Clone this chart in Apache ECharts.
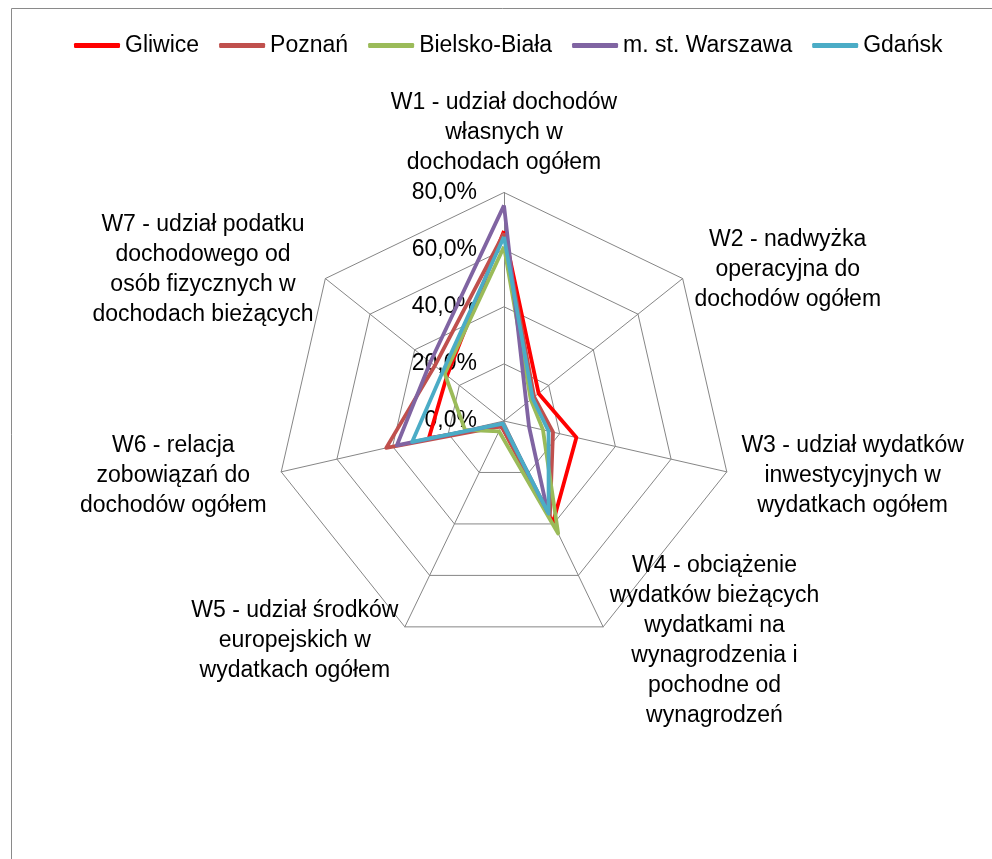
<!DOCTYPE html>
<html>
<head>
<meta charset="utf-8">
<script src="https://cdn.jsdelivr.net/npm/echarts@6/dist/echarts.min.js"></script>
<style>
html,body{margin:0;padding:0;background:#fff;}
#chart{width:992px;height:859px;}
</style>
</head>
<body>
<div id="chart"></div>
<script>
// Indicators (categories), listed W1..W7 (drawn clockwise from top)
var categories = [
  "W1 - udział dochodów\nwłasnych w\ndochodach ogółem",
  "W2 - nadwyżka\noperacyjna do\ndochodów ogółem",
  "W3 - udział wydatków\ninwestycyjnych w\nwydatkach ogółem",
  "W4 - obciążenie\nwydatków bieżących\nwydatkami na\nwynagrodzenia i\npochodne od\nwynagrodzeń",
  "W5 - udział środków\neuropejskich w\nwydatkach ogółem",
  "W6 - relacja\nzobowiązań do\ndochodów ogółem",
  "W7 - udział podatku\ndochodowego od\nosób fizycznych w\ndochodach bieżących"
];
var seriesNames = ["Gliwice", "Poznań", "Bielsko-Biała", "m. st. Warszawa", "Gdańsk"];
var gliwice   = [66.5, 15.5, 26.0, 39.5, 2.0, 27.0, 25.5];
var poznan    = [65.8, 13.5, 17.6, 37.0, 2.0, 42.3, 31.0];
var bielsko   = [61.0, 12.0, 14.0, 43.7, 4.0, 14.0, 26.5];
var warszawa  = [75.5, 10.0, 9.0, 35.2, 1.0, 38.5, 33.0];
var gdansk    = [64.5, 12.8, 16.0, 36.0, 1.0, 33.0, 27.5];
var tickValues = [0, 20, 40, 60, 80];
var axisMax = 80;
var colors = ["#FF0000", "#C0504D", "#9BBB59", "#8064A2", "#4BACC6"];

var seriesValues = [gliwice, poznan, bielsko, warszawa, gdansk];
var FONT = "Liberation Sans";

// ECharts lays indicators counterclockwise; reorder so they run clockwise like the original
var order = [0, 6, 5, 4, 3, 2, 1];
function reorder(arr) { return order.map(function (k) { return arr[k]; }); }

var indicators = reorder(categories).map(function (c, i) {
  var ind = { name: c, min: tickValues[0], max: axisMax };
  if (i === 0) {
    ind.axisLabel = { show: true };
  }
  return ind;
});

var chart = echarts.init(document.getElementById('chart'), null, { renderer: 'canvas' });
chart.setOption({
  animation: false,
  backgroundColor: '#ffffff',
  color: colors,
  graphic: [{
    type: 'rect',
    shape: { x: 11.5, y: 8.5, width: 1000, height: 900 },
    style: { fill: 'none', stroke: '#8a8a8a', lineWidth: 1 },
    silent: true
  }],
  legend: {
    top: 29,
    left: 69,
    itemWidth: 46,
    itemHeight: 5,
    itemGap: 20,
    icon: 'roundRect',
    textStyle: { fontFamily: FONT, fontSize: 23, color: '#000' },
    data: seriesNames
  },
  radar: {
    center: [504, 421],
    radius: 228.5,
    startAngle: 90,
    shape: 'polygon',
    splitNumber: tickValues.length - 1,
    indicator: indicators,
    nameGap: 15,
    axisName: {
      color: '#000',
      fontFamily: FONT,
      fontSize: 23,
      lineHeight: 30,
      formatter: function (value) {
        return value.split('\n').map(function (l) { return '{c|' + l + '}'; }).join('\n');
      },
      rich: {
        c: { align: 'center', fontFamily: FONT, fontSize: 23, lineHeight: 30, color: '#000' }
      }
    },
    axisLine: { lineStyle: { color: '#868686', width: 1 } },
    splitLine: { lineStyle: { color: '#868686', width: 1 } },
    splitArea: { show: false },
    axisTick: { show: false },
    axisLabel: {
      show: false,
      margin: 27,
      color: '#000',
      fontFamily: FONT,
      fontSize: 23,
      padding: [9, 0, 0, 0],
      formatter: function (v) { return v.toFixed(1).replace('.', ',') + '%'; }
    }
  },
  series: [{
    type: 'radar',
    symbol: 'none',
    data: seriesNames.map(function (n, i) {
      return {
        name: n,
        value: reorder(seriesValues[i]),
        lineStyle: { color: colors[i], width: 3.8 },
        itemStyle: { color: colors[i] }
      };
    })
  }]
});
</script>
</body>
</html>
